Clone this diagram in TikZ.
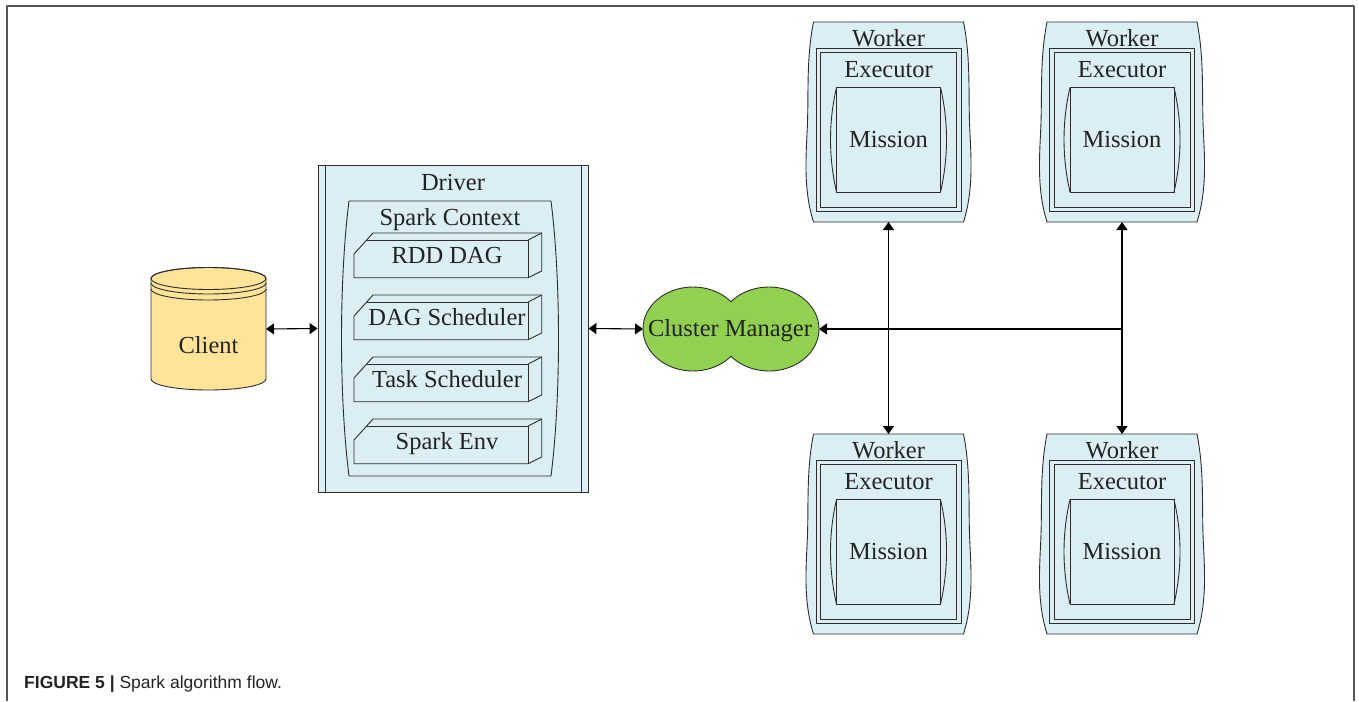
\documentclass[tikz,border=0pt]{standalone}
\usepackage{fontspec}
\setmainfont{Liberation Serif}
\newfontfamily\lblfont{Liberation Serif}
\newfontfamily\capfont{Liberation Sans}
\usetikzlibrary{arrows.meta}
\definecolor{boxblue}{RGB}{218,238,243}
\definecolor{clientyel}{RGB}{253,228,153}
\definecolor{cmgreen}{RGB}{146,208,80}
\definecolor{edgegray}{RGB}{45,45,45}
\definecolor{framegray}{RGB}{85,85,85}
\definecolor{txtcol}{RGB}{35,35,35}
\tikzset{
  lbl/.style={font=\lblfont\fontsize{24.5}{28}\selectfont, text=txtcol, inner sep=0pt, text height=16pt, text depth=0pt},
  shp/.style={draw=edgegray, line width=0.9pt},
  conn/.style={draw=black, line width=1.1pt},
  tip/.style={arrows={-Triangle[length=8pt,width=11pt]}},
  tips/.style={arrows={Triangle[length=8pt,width=11pt]-Triangle[length=8pt,width=11pt]}},
  hold/.style={inner sep=0pt, outer sep=0pt, draw=none}
}
% 3D box: #1 name, #2 back-top y, #3 text
\newcommand\ddbox[3]{%
  \filldraw[shp, fill=boxblue] (354,{#2+44.7}) -- (354,{#2+21}) -- (373,#2) -- (541.7,#2) -- (541.7,{#2+38}) -- (528.3,{#2+44.7}) -- cycle;
  \draw[shp] (366.7,{#2+7}) -- (528.3,{#2+7}) -- (528.3,{#2+44.7});
  \draw[shp] (528.3,{#2+7}) -- (541.7,#2);
  \node[lbl] (#1) at (447,{#2+22}) {#3};
}
% worker: #1 name, #2 center x, #3 top y
\newcommand\workerbox[3]{%
  \filldraw[shp, fill=boxblue] ({#2-75},#3) -- ({#2+75},#3)
     .. controls ({#2+82},{#3+35}) and ({#2+80},{#3+70}) .. ({#2+81},{#3+100})
     .. controls ({#2+82},{#3+130}) and ({#2+86},{#3+165}) .. ({#2+75},{#3+200})
     -- ({#2-75},{#3+200})
     .. controls ({#2-86},{#3+165}) and ({#2-82},{#3+130}) .. ({#2-81},{#3+100})
     .. controls ({#2-80},{#3+70}) and ({#2-82},{#3+35}) .. ({#2-75},#3) -- cycle;
  \draw[shp] ({#2-72.5},{#3+26}) rectangle ({#2+72.5},{#3+189});
  \draw[shp] ({#2-68},{#3+30.5}) rectangle ({#2+68},{#3+185});
  \draw[shp] ({#2-52},{#3+65.5}) rectangle ({#2+52},{#3+170});
  \draw[shp] ({#2-52},{#3+65.5}) .. controls ({#2-60},{#3+100}) and ({#2-60},{#3+135}) .. ({#2-52},{#3+170});
  \draw[shp] ({#2+52},{#3+65.5}) .. controls ({#2+60},{#3+100}) and ({#2+60},{#3+135}) .. ({#2+52},{#3+170});
  \node[hold, minimum width=150pt, minimum height=200pt] (#1) at (#2,{#3+100}) {};
  \node[lbl] (#1w) at (#2,{#3+16.5}) {Worker};
  \node[lbl] (#1e) at (#2,{#3+47.5}) {Executor};
  \node[lbl] (#1m) at (#2,{#3+117.5}) {Mission};
}
\begin{document}
\begin{tikzpicture}[x=1pt,y=-1pt,line join=round]
\useasboundingbox (0,0) rectangle (1359,701);
% frame
\draw[framegray, line width=1.5pt] (7,701) -- (7,6) -- (1354,6) -- (1354,701);

% Client cylinder
\filldraw[shp, fill=clientyel] (151,278.5) -- (151,379) arc[start angle=180, end angle=0, x radius=57.5, y radius=11] -- (266,278.5) arc[start angle=0, end angle=-180, x radius=57.5, y radius=11] -- cycle;
\draw[shp] (208.5,278.5) ellipse [x radius=57.5, y radius=11];
\draw[shp] (151,283) arc[start angle=180, end angle=0, x radius=57.5, y radius=11];
\draw[shp] (151,289) arc[start angle=180, end angle=0, x radius=57.5, y radius=11];
\node[hold, minimum width=115pt, minimum height=122pt] (client) at (208.5,329) {};
\node[lbl] (clientl) at (208.5,345.3) {Client};

% Driver
\node[shp, fill=boxblue, minimum width=270pt, minimum height=327pt, inner sep=0pt] (driver) at (453,328.5) {};
\draw[shp] ([xshift=8pt]driver.north west) -- ([xshift=8pt]driver.south west);
\draw[shp] ([xshift=-7pt]driver.north east) -- ([xshift=-7pt]driver.south east);
\node[lbl] (driverl) at (453,182.5) {Driver};
% Spark context
\filldraw[shp, fill=boxblue] (349,201) -- (551,201) .. controls (561,280) and (561,397) .. (551,476) -- (349,476) .. controls (339,397) and (339,280) .. (349,201) -- cycle;
\node[lbl] (sc) at (450,217.5) {Spark Context};
\ddbox{rdd}{233}{RDD DAG}
\ddbox{dags}{295}{DAG Scheduler}
\ddbox{tasks}{357}{Task Scheduler}
\ddbox{env}{419}{Spark Env}

% Cluster manager
\fill[cmgreen] (693,329) ellipse [x radius=50, y radius=42] (769,329) ellipse [x radius=50, y radius=42];
\begin{scope}
  \clip (600,250) rectangle (731,410);
  \draw[shp] (693,329) ellipse [x radius=50, y radius=42];
\end{scope}
\begin{scope}
  \clip (731,250) rectangle (860,410);
  \draw[shp] (769,329) ellipse [x radius=50, y radius=42];
\end{scope}
\node[hold, minimum width=176pt, minimum height=84pt] (cm) at (731,329) {};
\node[lbl] (cml) at (730,328.3) {Cluster Manager};

% Workers
\workerbox{wa}{888.5}{22}
\workerbox{wb}{1122}{22}
\workerbox{wc}{888.5}{434}
\workerbox{wd}{1122}{434}

% connectors
\draw[conn, tips] (client.east) -- (driver.west);
\draw[conn, tips] (driver.east) -- (cm.west);
\draw[conn, tips] (wa.south) -- (wc.north);
\draw[conn, tips] (wb.south) -- (wd.north);
\coordinate (junc) at (wb.south |- cm.east);
\draw[conn, tip] (junc) -- (cm.east);

% caption
\node[anchor=base west, inner sep=0pt, text=txtcol, font=\capfont\fontsize{17.5}{20}\selectfont] (cap) at (24,688) {\textbf{FIGURE 5 |} Spark algorithm flow.};
\end{tikzpicture}
\end{document}
